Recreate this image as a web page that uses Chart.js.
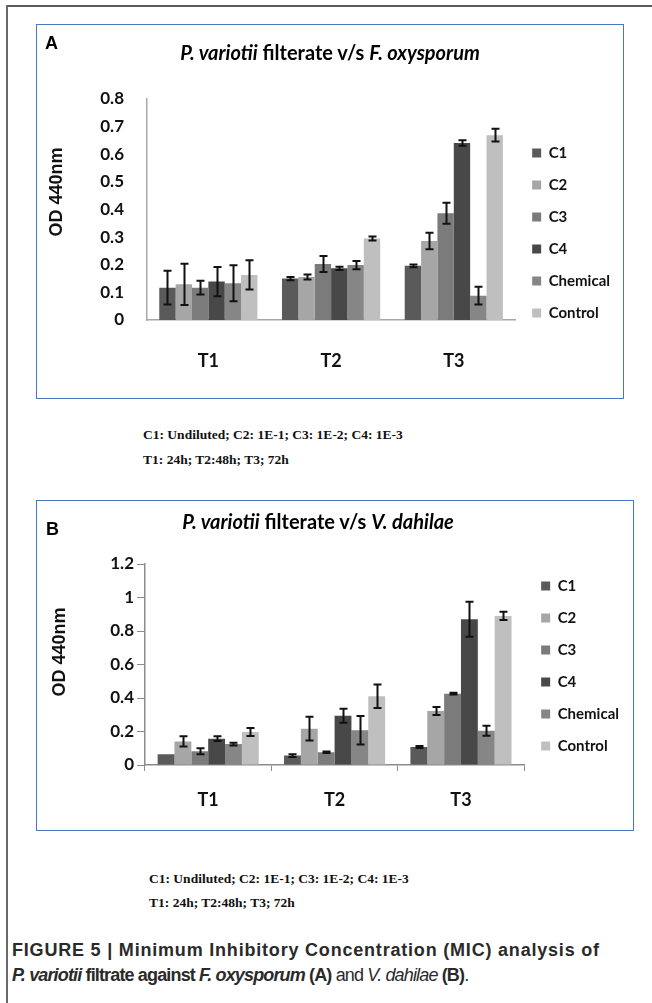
<!DOCTYPE html>
<html>
<head>
<meta charset="utf-8">
<script src="https://cdn.jsdelivr.net/npm/chart.js@4.4.1/dist/chart.umd.min.js"></script>
<style>
  html, body { margin: 0; padding: 0; background: #fff; }
  #page { position: relative; width: 652px; height: 1003px; overflow: hidden; }
  .frameTop { position: absolute; left: 7px; top: 5px; width: 645px; height: 2px; background: #5a5a5a; }
  .frameLeft { position: absolute; left: 6px; top: 5px; width: 2px; height: 998px; background: #6a6a6a; }
  .box { position: absolute; border: 1.5px solid #4a78bf; box-sizing: border-box; pointer-events: none; }
  canvas { position: absolute; }
  .letter { position: absolute; font: bold 18px "Liberation Sans", Arial, sans-serif; color: #000; }
  .ttl { position: absolute; font: bold 20px Lato, sans-serif; color: #000; transform: translateX(-50%); white-space: nowrap; }
  .note { position: absolute; font: bold 13.5px "Liberation Serif", "Times New Roman", serif; color: #111; white-space: nowrap; }
  .cap { position: absolute; left: 12px; font: bold 18px "Liberation Sans", Arial, sans-serif; color: #2a2a2a; white-space: nowrap; }
  .cap .n { font-weight: normal; }
</style>
</head>
<body>
<div id="page">
  <div class="frameTop"></div>
  <div class="frameLeft"></div>

  <canvas id="chartA" width="587" height="374" style="left:36px;top:24px"></canvas>
  <div class="box" style="left:36px;top:24px;width:588px;height:375px"></div>
  <div class="letter" style="left:45px;top:33px">A</div>
  <div class="ttl" style="left:330px;top:40px"><i>P. variotii</i> filterate v/s <i>F. oxysporum</i></div>
  <div class="note" style="left:143px;top:427px">C1: Undiluted; C2: 1E-1; C3: 1E-2; C4: 1E-3</div>
  <div class="note" style="left:143px;top:452px">T1: 24h; T2:48h; T3; 72h</div>

  <canvas id="chartB" width="597" height="330" style="left:36px;top:500px"></canvas>
  <div class="box" style="left:36px;top:500px;width:598px;height:331px"></div>
  <div class="letter" style="left:46px;top:519px">B</div>
  <div class="ttl" style="left:318px;top:509px"><i>P. variotii</i> filterate v/s <i>V. dahilae</i></div>
  <div class="note" style="left:149px;top:871px">C1: Undiluted; C2: 1E-1; C3: 1E-2; C4: 1E-3</div>
  <div class="note" style="left:149px;top:895px">T1: 24h; T2:48h; T3; 72h</div>

  <div class="cap" style="top:940px;letter-spacing:0.8px">FIGURE 5 | Minimum Inhibitory Concentration (MIC) analysis of</div>
  <div class="cap" style="top:965px;letter-spacing:-0.85px"><i>P. variotii</i> filtrate against <i>F. oxysporum</i> (A) <span class="n">and <i>V. dahilae</i></span> (B)<span class="n">.</span></div>
</div>

<script>
// time points and treatments
const timePoints = ['T1', 'T2', 'T3']
const treatments = ['C1', 'C2', 'C3', 'C4', 'Chemical', 'Control']
const barColors = ['#5a5a5a', '#a6a6a6', '#7b7b7b', '#484848', '#868686', '#bfbfbf']

// panel A: F. oxysporum, OD 440nm
const aC1 = [0.117, 0.150, 0.196]
const aC2 = [0.129, 0.156, 0.286]
const aC3 = [0.117, 0.203, 0.386]
const aC4 = [0.139, 0.187, 0.641]
const aChem = [0.133, 0.199, 0.088]
const aCtrl = [0.163, 0.295, 0.669]
const aErrC1 = [0.061, 0.006, 0.005]
const aErrC2 = [0.075, 0.009, 0.030]
const aErrC3 = [0.025, 0.029, 0.038]
const aErrC4 = [0.053, 0.006, 0.010]
const aErrChem = [0.065, 0.015, 0.032]
const aErrCtrl = [0.053, 0.007, 0.023]
const aTicks = [0, 0.1, 0.2, 0.3, 0.4, 0.5, 0.6, 0.7, 0.8]

// panel B: V. dahilae, OD 440nm
const bC1 = [0.064, 0.056, 0.107]
const bC2 = [0.141, 0.217, 0.322]
const bC3 = [0.082, 0.076, 0.426]
const bC4 = [0.157, 0.294, 0.870]
const bChem = [0.125, 0.207, 0.205]
const bCtrl = [0.197, 0.410, 0.890]
const bErrC1 = [0, 0.008, 0.006]
const bErrC2 = [0.030, 0.071, 0.024]
const bErrC3 = [0.018, 0.004, 0.005]
const bErrC4 = [0.014, 0.042, 0.105]
const bErrChem = [0.008, 0.085, 0.030]
const bErrCtrl = [0.024, 0.070, 0.025]
const bTicks = [0, 0.2, 0.4, 0.6, 0.8, 1, 1.2]

// draws +/- error whiskers on every bar
const errorBars = {
  id: 'errorBars',
  afterDatasetsDraw(chart) {
    const ctx = chart.ctx
    const yScale = chart.scales.y
    ctx.save()
    ctx.strokeStyle = '#111'
    ctx.lineWidth = 2
    chart.data.datasets.forEach((ds, i) => {
      const meta = chart.getDatasetMeta(i)
      meta.data.forEach((bar, j) => {
        const err = ds.errors[j]
        if (!err) return
        const v = ds.data[j]
        const yTop = yScale.getPixelForValue(v + err)
        const yBot = yScale.getPixelForValue(v - err)
        const x = Math.round(bar.x) + 0.5
        ctx.beginPath()
        ctx.moveTo(x, yTop); ctx.lineTo(x, yBot)
        ctx.moveTo(x - 4, yTop); ctx.lineTo(x + 4, yTop)
        ctx.moveTo(x - 4, yBot); ctx.lineTo(x + 4, yBot)
        ctx.stroke()
      })
    })
    ctx.restore()
  }
}

function makeDatasets(values, errors) {
  return treatments.map((name, i) => ({
    label: name,
    data: values[i],
    errors: errors[i],
    backgroundColor: barColors[i],
    borderWidth: 0,
    barPercentage: 1,
    categoryPercentage: 0.8
  }))
}

function config(values, errors, tickVals, opt) {
  return {
    type: 'bar',
    data: { labels: timePoints, datasets: makeDatasets(values, errors) },
    options: {
      responsive: false,
      animation: false,
      events: [],
      layout: { padding: opt.padding },
      plugins: {
        // empty title only reserves space above the plot (the real title is the html one)
        title: {
          display: opt.spacer > 0,
          text: '',
          fullSize: false,
          padding: 0,
          font: { size: opt.spacer, lineHeight: 1 }
        },
        legend: {
          position: 'right',
          align: 'center',
          labels: {
            boxWidth: 9,
            boxHeight: 9,
            padding: 17,
            color: '#111',
            font: { family: 'Lato', size: 15, weight: 'bold' }
          }
        },
        tooltip: { enabled: false }
      },
      scales: {
        x: {
          afterFit: s => { s.height = opt.xHeight },
          grid: { display: opt.xTicks, drawOnChartArea: false, tickLength: 6, color: '#8c8c8c' },
          border: { color: opt.axisColor, width: 1.5 },
          ticks: { padding: opt.xPad, color: '#111', font: { family: 'Lato', size: 18, weight: 'bold' } }
        },
        y: {
          min: 0,
          max: tickVals[tickVals.length - 1],
          afterFit: s => { s.width = opt.yWidth },
          afterBuildTicks: s => { s.ticks = tickVals.map(v => ({ value: v })) },
          grid: { display: opt.yTicks, drawOnChartArea: false, tickLength: 8, color: '#8c8c8c' },
          border: { color: opt.axisColor, width: 1.5 },
          ticks: {
            padding: opt.yPad,
            color: '#111',
            font: { family: 'Lato', size: 17, weight: 'bold' },
            callback: v => String(+v.toFixed(1))
          },
          title: {
            display: true,
            // leading spaces lift the rotated title a little, as in the original
            text: opt.yTitle,
            color: '#111',
            font: { family: 'Liberation Sans', size: 18, weight: 'bold' },
            padding: { top: opt.titlePad, bottom: 0 }
          }
        }
      }
    },
    plugins: [errorBars]
  }
}

new Chart(document.getElementById('chartA'), config(
  [aC1, aC2, aC3, aC4, aChem, aCtrl],
  [aErrC1, aErrC2, aErrC3, aErrC4, aErrChem, aErrCtrl],
  aTicks,
  { padding: { top: 75, bottom: 31, left: 0, right: 3 }, spacer: 0, xHeight: 47, xPad: 24,
    yWidth: 111, yPad: 15, titlePad: 10, xTicks: false, yTicks: false, axisColor: '#a8a8a8',
    yTitle: '       OD 440nm' }
))

new Chart(document.getElementById('chartB'), config(
  [bC1, bC2, bC3, bC4, bChem, bCtrl],
  [bErrC1, bErrC2, bErrC3, bErrC4, bErrChem, bErrCtrl],
  bTicks,
  { padding: { top: 20, bottom: 18, left: 0, right: 4 }, spacer: 44, xHeight: 47, xPad: 18,
    yWidth: 109, yPad: 3, titlePad: 13, xTicks: true, yTicks: true, axisColor: '#8c8c8c',
    yTitle: '     OD 440nm' }
))
</script>
</body>
</html>
